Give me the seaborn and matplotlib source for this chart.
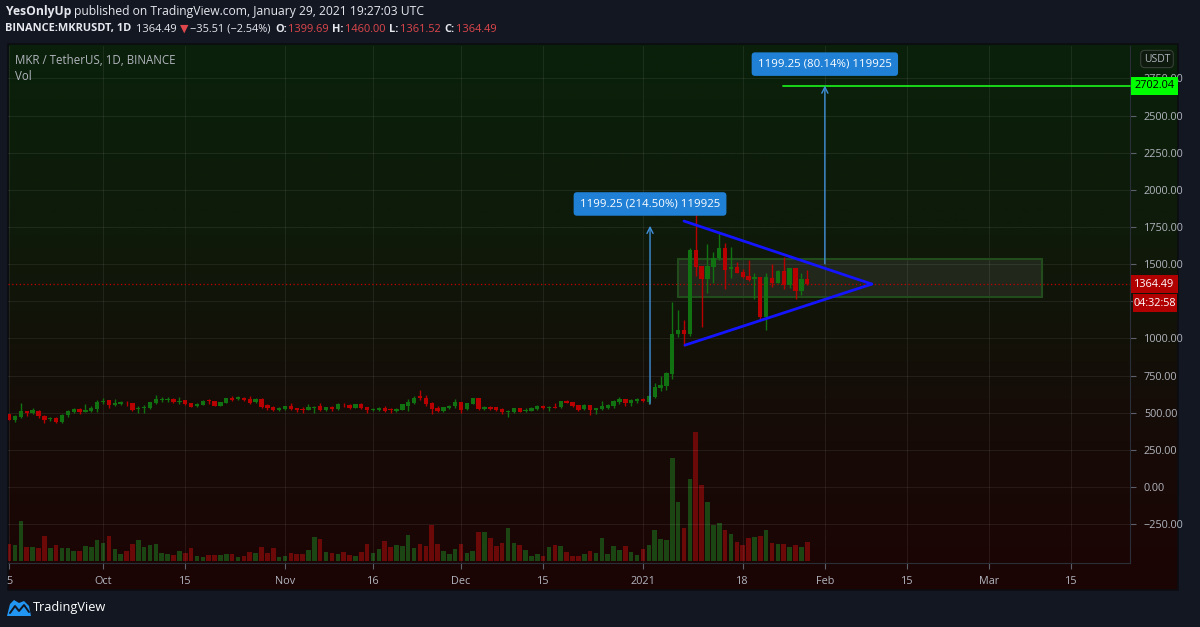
import numpy as np
import pandas as pd
import matplotlib
matplotlib.use("Agg")
import matplotlib.pyplot as plt
from matplotlib.patches import Rectangle, Polygon
from matplotlib.lines import Line2D
from matplotlib.colors import LinearSegmentedColormap
from matplotlib.ticker import FuncFormatter
import seaborn as sns

# ---------------- data ----------------
start_date = "2020-09-15"
opens = [489, 451, 471, 509, 496, 513, 480, 455, 462, 435, 484, 502, 527, 507, 511, 522,
         574, 583, 552, 556, 567, 567, 527, 529, 529, 563, 583, 585, 590, 574, 583, 563,
         547, 554, 583, 576, 547, 565, 597, 590, 601, 590, 572, 590, 552, 538, 518, 522,
         543, 529, 522, 520, 529, 543, 518, 538, 525, 554, 549, 534, 558, 536, 520, 520,
         531, 525, 513, 518, 547, 563, 612, 601, 563, 531, 509, 529, 543, 570, 522, 558,
         596, 527, 538, 536, 525, 507, 504, 529, 509, 513, 525, 543, 534, 540, 536, 576,
         570, 549, 522, 549, 520, 522, 529, 543, 572, 592, 563, 578, 592, 574, 607, 665,
         679, 760, 1033, 1056, 1029, 1595, 1487, 1402, 1483, 1539, 1608, 1465, 1480, 1447,
         1422, 1397, 1411, 1146, 1406, 1375, 1453, 1361, 1474, 1321, 1399.69]
highs = [495, 484, 563, 512, 534, 516, 482, 471, 471, 490, 520, 530, 529, 556, 547, 583,
         596, 585, 590, 576, 578, 569, 543, 552, 572, 617, 605, 605, 601, 605, 585, 565,
         565, 583, 590, 578, 572, 598, 610, 610, 603, 614, 599, 601, 561, 545, 538, 547,
         563, 534, 538, 556, 545, 563, 540, 545, 563, 567, 556, 561, 563, 538, 534, 538,
         543, 531, 531, 558, 590, 610, 650, 617, 574, 547, 538, 552, 590, 574, 567, 601,
         601, 543, 543, 538, 529, 520, 534, 531, 529, 536, 549, 549, 543, 567, 578, 583,
         574, 552, 556, 551, 529, 581, 556, 583, 603, 594, 590, 596, 601, 617, 701, 750,
         773, 1242, 1190, 1123, 1606, 1977, 1490, 1635, 1584, 1707, 1644, 1613, 1514, 1465,
         1527, 1438, 1415, 1442, 1501, 1460, 1550, 1476, 1476, 1442, 1460.00]
lows = [448, 437, 468, 478, 489, 466, 430, 444, 430, 433, 473, 500, 489, 505, 504, 507,
        556, 534, 545, 550, 545, 511, 496, 496, 522, 560, 574, 572, 563, 560, 551, 538,
        538, 551, 560, 543, 545, 563, 578, 585, 580, 556, 563, 529, 520, 511, 511, 516,
        518, 507, 498, 516, 500, 511, 511, 511, 518, 538, 522, 529, 522, 498, 511, 511,
        504, 498, 507, 516, 511, 556, 583, 547, 489, 507, 507, 527, 534, 498, 520, 556,
        520, 520, 516, 513, 493, 471, 500, 502, 504, 511, 518, 522, 511, 531, 534, 563,
        538, 513, 520, 484, 493, 518, 522, 534, 560, 545, 545, 563, 574, 562, 600, 645,
        652, 730, 1011, 950, 1018, 1420, 1074, 1307, 1375, 1527, 1334, 1406, 1438, 1409,
        1386, 1263, 1123, 1060, 1343, 1370, 1330, 1337, 1267, 1292, 1361.52]
closes = [451, 475, 509, 498, 516, 478, 448, 464, 437, 487, 511, 527, 504, 516, 531, 574,
          578, 552, 563, 574, 563, 516, 534, 540, 570, 590, 590, 590, 572, 581, 556, 540,
          558, 578, 576, 545, 570, 596, 585, 603, 583, 563, 592, 538, 529, 516, 531, 545,
          525, 518, 518, 536, 536, 516, 538, 522, 558, 549, 529, 558, 531, 518, 527, 531,
          513, 518, 525, 556, 572, 601, 596, 556, 522, 511, 536, 547, 570, 520, 563, 596,
          522, 538, 525, 518, 507, 513, 531, 504, 520, 531, 543, 531, 540, 534, 576, 565,
          543, 520, 554, 518, 529, 543, 552, 576, 592, 563, 585, 592, 578, 611, 672, 685,
          768, 1033, 1056, 1029, 1595, 1483, 1402, 1487, 1539, 1608, 1460, 1480, 1442, 1415,
          1393, 1415, 1146, 1411, 1375, 1453, 1361, 1474, 1321, 1397, 1364.49]
volumes = [17, 16, 40, 14, 14, 13, 25, 13, 16, 13, 13, 10, 10, 15, 14, 21, 18, 25, 12, 7,
           10, 17, 21, 14, 16, 17, 8, 7, 6, 10, 8, 13, 5, 4, 6, 6, 6, 7, 7, 4,
           5, 9, 8, 14, 8, 13, 4, 5, 8, 7, 7, 11, 24, 22, 9, 8, 7, 9, 6, 5,
           9, 17, 8, 12, 20, 14, 16, 15, 26, 13, 17, 15, 36, 17, 10, 7, 12, 17, 8, 10,
           29, 29, 23, 15, 18, 33, 18, 16, 11, 5, 7, 5, 14, 16, 15, 9, 5, 5, 7, 10,
           8, 23, 7, 15, 11, 15, 9, 6, 12, 16, 31, 22, 21, 103, 59, 33, 82, 129, 76, 59,
           36, 38, 31, 27, 19, 16, 23, 24, 25, 31, 18, 17, 17, 14, 16, 14, 19]

tick_dates = ["2020-09-15", "2020-10-01", "2020-10-15", "2020-11-01", "2020-11-16",
              "2020-12-01", "2020-12-15", "2021-01-01", "2021-01-18", "2021-02-01",
              "2021-02-15", "2021-03-01", "2021-03-15"]
tick_labels = ["5", "Oct", "15", "Nov", "16", "Dec", "15", "2021", "18", "Feb", "15", "Mar", "15"]
price_ticks = [-250, 0, 250, 500, 750, 1000, 1250, 1500, 1750, 2000, 2250, 2500, 2750]
hidden_price_labels = [1250]   # covered by the countdown label in the reference

# drawings (from the picture)
measure1 = dict(date="2021-01-02 05:00", start=559.09, end=1758.34, text="1199.25 (214.50%) 119925")
measure2 = dict(date="2021-02-01", start=1502.79, end=2702.04, text="1199.25 (80.14%) 119925")
target_price = 2702.04
target_from = "2021-01-24 20:00"
last_price = 1364.49
countdown = "04:32:58"
tri_upper = (("2021-01-08", 1790), ("2021-02-09", 1366))
tri_lower = (("2021-01-08 04:00", 955), ("2021-02-09", 1366))
box_range = (("2021-01-06 23:00", 1279), ("2021-03-09 23:00", 1534))

# ---------------- prep ----------------
ref = pd.Timestamp("2021-01-01")
def dnum(s):
    return (pd.Timestamp(s) - ref) / pd.Timedelta(days=1)

dates = pd.date_range(start_date, periods=len(opens), freq="D")
df = pd.DataFrame(dict(day=(dates - ref).days, open=opens, high=highs, low=lows,
                       close=closes, vol=volumes))
df["dir"] = np.where(df["close"] >= df["open"], "up", "down")

W, H = 1200, 627
def fx(px): return px / W
def fy(py): return 1 - py / H

sns.set_theme(style="dark")
plt.rcParams["font.family"] = ["Open Sans", "DejaVu Sans"]
plt.rcParams["axes.unicode_minus"] = True

UP, DOWN = "#107210", "#b80000"
VUP, VDOWN = "#1b4614", "#6b0909"
TXT = "#b2b5be"

fig = plt.figure(figsize=(12, 6.27), dpi=100, facecolor="#131722")

# panel background gradient
bg = fig.add_axes([fx(8), fy(590), (1178 - 8) / W, (590 - 44) / H], zorder=0)
cmap = LinearSegmentedColormap.from_list(
    "tvbg", [(0.0, "#0a210a"), (0.35, "#0f1a0a"), (0.65, "#150d08"), (1.0, "#1c0404")])
bg.imshow(np.linspace(0, 1, 256).reshape(-1, 1), aspect="auto", cmap=cmap,
          extent=[0, 1, 0, 1])
bg.set_axis_off()
fig.add_artist(Rectangle((fx(8), fy(590)), (1178 - 8) / W, (590 - 44) / H,
                         transform=fig.transFigure, fill=False, ec="#0b0d12", lw=1.2, zorder=1))

ax = fig.add_axes([fx(8), fy(563), (1130 - 8) / W, (563 - 46) / H], zorder=3)
axv = ax.twinx()
axv.set_zorder(2)
ax.set_zorder(3)
ax.patch.set_visible(False)
axv.patch.set_visible(False)

# volume (seaborn histogram with weights -> one bar per day)
sns.histplot(data=df, x="day", weights="vol", hue="dir", discrete=True, shrink=0.78,
             palette={"up": VUP, "down": VDOWN}, multiple="layer", alpha=1, linewidth=0,
             legend=False, ax=axv)
axv.set_ylim(-2, 515)
axv.set_ylabel("")
axv.set_yticks([])
axv.tick_params(right=False, labelright=False)
for s in axv.spines.values():
    s.set_visible(False)

# candles
cols = np.where(df["dir"] == "up", UP, DOWN)
ax.vlines(df["day"], df["low"], df["high"], colors=cols, lw=1.0, zorder=4)
ax.bar(df["day"], df["close"] - df["open"], bottom=df["open"], width=0.74, color=cols,
       linewidth=0, zorder=5)

ax.set_xlim(-108.2, 83.0)
ax.set_ylim(-511, 2968)
ax.set_xticks([dnum(d) for d in tick_dates])
ax.set_xticklabels(tick_labels)
ax.set_yticks(price_ticks)
ax.yaxis.set_major_formatter(FuncFormatter(
    lambda v, p: "" if round(v) in hidden_price_labels else f"{v:.2f}".replace("-", "\u2212")))
ax.yaxis.tick_right()
ax.grid(True, color="#ffffff", alpha=0.07, lw=0.8)
ax.tick_params(axis="y", right=True, left=False, labelright=True, labelleft=False,
               length=4, width=0.8, color="#5d606b", labelcolor=TXT, labelsize=7.8, pad=6)
ax.tick_params(axis="x", bottom=True, length=4, width=0.8, color="#5d606b",
               labelcolor=TXT, labelsize=7.8, pad=5)
ax.set_xlabel("")
ax.set_ylabel("")
for k, s in ax.spines.items():
    s.set_visible(k in ("right", "bottom"))
    s.set_color("#2a2e39")
    s.set_linewidth(0.8)

# last price dotted line
ax.axhline(last_price, color="#c00000", lw=0.9, ls=(0, (1, 2)), zorder=3)

# rectangle zone
(x0, y0), (x1, y1) = box_range
ax.add_patch(Rectangle((dnum(x0), y0), dnum(x1) - dnum(x0), y1 - y0,
                       fc=(1, 1, 1, 0.075), ec="#234c1c", lw=1.5, zorder=2))

# triangle
for (pa, pb) in (tri_upper, tri_lower):
    ax.plot([dnum(pa[0]), dnum(pb[0])], [pa[1], pb[1]], color="#1414ff", lw=2, zorder=6,
            solid_capstyle="round")

# target line
ax.plot([dnum(target_from), 83.0], [target_price, target_price], color="#19e619", lw=1.3,
        zorder=6, clip_on=False)

# measurement arrows + labels
for m, ly in ((measure1, 1905), (measure2, 2846)):
    xm = dnum(m["date"])
    ax.annotate("", xy=(xm, m["end"]), xytext=(xm, m["start"]),
                arrowprops=dict(arrowstyle="->", color="#3f8fd8", lw=1.0,
                                shrinkA=0, shrinkB=0, mutation_scale=11), zorder=6)
    ax.text(xm, ly, m["text"], ha="center", va="center", color="white", fontsize=8.2,
            zorder=8,
            bbox=dict(boxstyle="round,pad=0.55,rounding_size=0.3", fc="#1f80d6", ec="none"))

# right-side price labels (fixed-size boxes)
def price_px(p):
    return H - ax.transData.transform((0, p))[1]

def side_label(ycen, text, fc, tc, x0=1131, x1=1178, h=18):
    fig.add_artist(Rectangle((fx(x0), fy(ycen + h / 2)), (x1 - x0) / W, h / H,
                             transform=fig.transFigure, fc=fc, ec="none", zorder=19))
    fig.text(fx((x0 + x1) / 2), fy(ycen), text, ha="center", va="center", color=tc,
             fontsize=7.8, zorder=20)

side_label(price_px(target_price), "2702.04", "#00ff00", "black")
side_label(price_px(last_price), "1364.49", "#b00000", "white")
side_label(price_px(last_price) + 19, countdown, "#b00000", "white", x0=1133, x1=1177)

fig.text(fx(1157), fy(59), "USDT", ha="center", va="center", color=TXT, fontsize=7.5,
         zorder=20, bbox=dict(boxstyle="round,pad=0.3,rounding_size=0.4", fc="#0d1a0d",
                              ec="#3a3f3a", lw=0.8))

# chart legend texts
fig.text(fx(15), fy(60), "MKR / TetherUS, 1D, BINANCE", color=TXT, fontsize=8.3,
         va="center", ha="left", zorder=20)
fig.text(fx(15), fy(77), "Vol", color=TXT, fontsize=8.3, va="center", ha="left", zorder=20)

# header (laid out sequentially so pieces never overlap)
HW = "#e6e8ee"
RED = "#e0474c"
renderer = fig.canvas.get_renderer()

def run_line(ypx, x_start, pieces, size):
    x = x_start
    for s, c, w, gap in pieces:
        t = fig.text(fx(x), fy(ypx), s, color=c, fontsize=size, fontweight=w, va="center",
                     ha="left", family=["Open Sans", "DejaVu Sans"])
        bb = t.get_window_extent(renderer)
        x = bb.x1 + gap

run_line(12, 6, [("YesOnlyUp", HW, "bold", 3),
                 ("published on TradingView.com, January 29, 2021 19:27:03 UTC", HW, "normal", 0)],
         8.7)
run_line(29, 5, [("BINANCE:MKRUSDT, 1D", HW, "bold", 5), ("1364.49", HW, "normal", 3),
                 ("\u25bc", RED, "normal", 2), ("\u221235.51 (\u22122.54%)", HW, "normal", 4),
                 ("O:", HW, "bold", 1), ("1399.69", RED, "normal", 4),
                 ("H:", HW, "bold", 1), ("1460.00", RED, "normal", 4),
                 ("L:", HW, "bold", 1), ("1361.52", RED, "normal", 4),
                 ("C:", HW, "bold", 1), ("1364.49", RED, "normal", 0)], 7.9)

# footer logo
fig.add_artist(Polygon([[fx(7), fy(616)], [fx(10), fy(604)], [fx(14), fy(600)],
                        [fx(19), fy(603)], [fx(24), fy(601)], [fx(29), fy(606)],
                        [fx(31), fy(616)]], closed=True, transform=fig.transFigure,
                       fc="#2196f3", ec="none", zorder=20))
fig.add_artist(Line2D([fx(10), fx(15), fx(19), fx(24), fx(29)],
                      [fy(613), fy(606), fy(611), fy(605), fy(612)],
                      transform=fig.transFigure, color="#131722", lw=1.4, zorder=21))
fig.text(fx(33), fy(608), "TradingView", color="white", fontsize=9.2, va="center")

fig.savefig("out.png", dpi=100, facecolor=fig.get_facecolor())
